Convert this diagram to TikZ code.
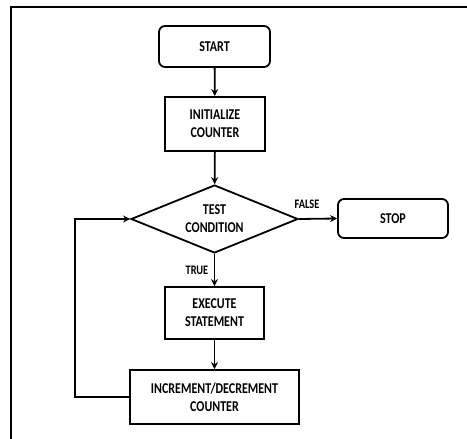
\documentclass[tikz,border=0pt]{standalone}
\usepackage{fontspec}
\setmainfont{Carlito}[FakeStretch=0.8]
\usetikzlibrary{shapes.geometric,arrows.meta}
\begin{document}
\begin{tikzpicture}[x=1pt,y=-1pt,
  line width=1.8pt,
  every node/.style={font=\bfseries\fontsize{15}{18}\selectfont, text=black},
  term/.style={draw, rounded corners=6pt, minimum width=111pt, minimum height=41pt, inner sep=0pt},
  proc/.style={draw, minimum width=100pt, minimum height=54pt, align=center, inner sep=0pt},
  dec/.style={draw, diamond, aspect=2.45, minimum width=167pt, minimum height=68pt, align=center, inner sep=0pt},
  lbl/.style={font=\bfseries\fontsize{13}{15}\selectfont},
  arr/.style={-{Stealth[length=7pt,width=7pt]}}]
\useasboundingbox (0,0) rectangle (467,439);
% frame
\draw[line width=1.4pt] (11,439) -- (11,7) -- (467,7);
% nodes
\node[term] (start) at (214.5,46.5) {START};
\node[proc] (init) at (215,124) {INITIALIZE\\COUNTER};
\node[dec] (test) at (214.5,219) {TEST\\CONDITION};
\node[term, minimum width=110pt, minimum height=39pt] (stop) at (393,218.5) {STOP};
\node[proc, minimum width=99pt, minimum height=52pt] (exec) at (214.5,313) {EXECUTE\\STATEMENT};
\node[proc, minimum width=169pt, minimum height=54pt] (inc) at (214.5,397) {INCREMENT/DECREMENT\\COUNTER};
\coordinate (loop) at (75,219);
% connectors
\draw[arr] (start) -- (init);
\draw[arr] (init) -- (test);
\draw[arr] (test.east) -- (stop.west);
\draw[arr] (test.south) -- (exec.north);
\draw[arr] (exec) -- (inc);
\draw[arr] (inc.west) -| (loop) -- (test.west);
% branch labels
\node[lbl] at (307,204.5) {FALSE};
\node[lbl] at (197,270.5) {TRUE};
\end{tikzpicture}
\end{document}
